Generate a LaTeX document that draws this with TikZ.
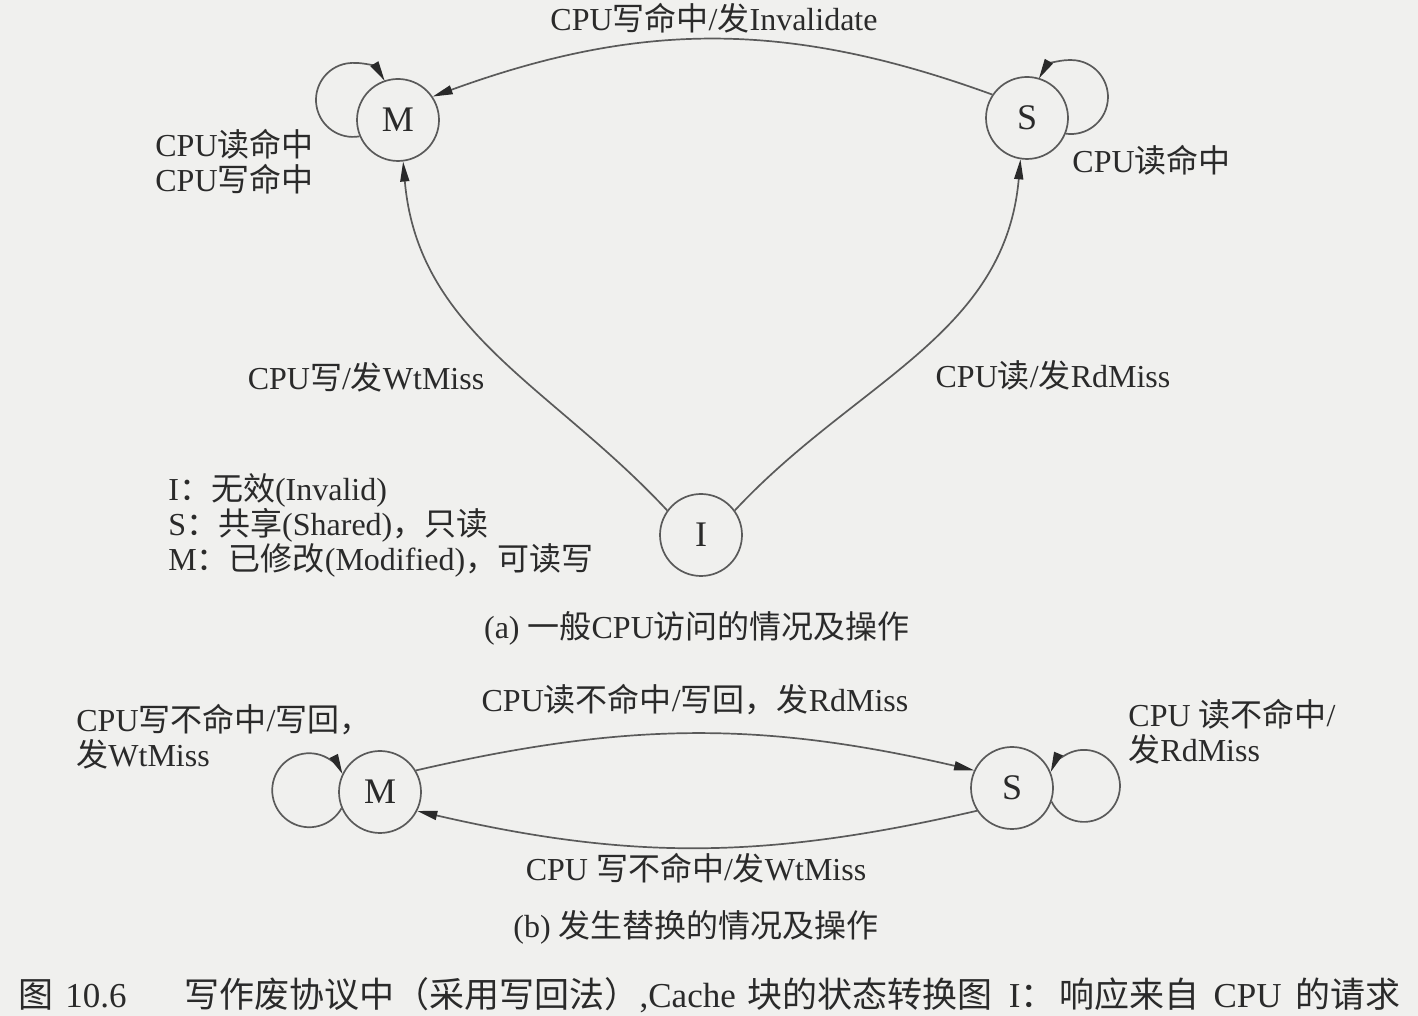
\documentclass[tikz,border=0pt]{standalone}
\usepackage{fontspec}
\setmainfont{Liberation Serif}
\newfontfamily\cjk{Noto Sans CJK SC}
\newcommand\zh[1]{{\cjk #1}}
\usetikzlibrary{arrows.meta}
\definecolor{bgc}{RGB}{240,240,238}
\definecolor{linec}{RGB}{90,90,90}
\definecolor{txtc}{RGB}{42,42,42}
\tikzset{
  st/.style={circle, draw=linec, line width=0.85pt, minimum size=41pt, inner sep=0pt,
    font=\fontsize{18}{18}\selectfont, text=txtc},
  tr/.style={draw=linec, line width=0.85pt, -{Triangle[length=10pt,width=4.5pt,color=txtc]}},
  lbl/.style={font=\fontsize{16}{17.5}\selectfont, text=txtc, inner sep=0pt},
  figcap/.style={font=\fontsize{17.5}{18}\selectfont, text=txtc, inner sep=0pt},
}
\begin{document}
\begin{tikzpicture}[x=0.5pt,y=0.5pt]
\fill[bgc] (0,0) rectangle (1418,1016);
\useasboundingbox (0,0) rectangle (1418,1016);
% (a)
\node[st] (M) at (398,896) {M};
\node[st] (S) at (1027,898) {S};
\node[st] (I) at (701,481) {I};
\draw[tr] (S.146) to[out=160,in=20] (M.34);
\draw[tr] (I.144) to[out=133,in=-85] (M.-83);
\draw[tr] (I.36) to[out=47,in=-95] (S.-99);
\draw[tr] (M.203.6) arc[start angle=280.1,end angle=31.1,radius=37];
\draw[tr] (S.-22.4) arc[start angle=262,end angle=510,radius=37];
\node[lbl] (la) at (714,998) {CPU\zh{写命中}/\zh{发}Invalidate};
\node[lbl, anchor=west, align=left] (lb) at (155,854) {CPU\zh{读命中}\\CPU\zh{写命中}};
\node[lbl, anchor=west] (lc) at (1072,856) {CPU\zh{读命中}};
\node[lbl] (ld) at (366,639) {CPU\zh{写}/\zh{发}WtMiss};
\node[lbl] (le) at (1053,641) {CPU\zh{读}/\zh{发}RdMiss};
\node[lbl, anchor=west, align=left] (leg) at (168,491)
  {I\zh{：无效}(Invalid)\\S\zh{：共享}(Shared)\zh{，只读}\\M\zh{：已修改}(Modified)\zh{，可读写}};
\node[lbl] (capa) at (697,388) {(a) \zh{一般}CPU\zh{访问的情况及操作}};
% (b)
\node[st] (M2) at (380,224) {M};
\node[st] (S2) at (1012,228) {S};
\draw[tr] (M2.31) to[out=13,in=167] (S2.155);
\draw[tr] (S2.213) to[out=-167,in=-13] (M2.-27);
\draw[tr] (M2.203.1) arc[start angle=330.7,end angle=26.1,radius=37];
\draw[tr] (S2.-19.5) arc[start angle=205.9,end angle=517.3,radius=36];
\node[lbl] (lf) at (695,316) {CPU\zh{读不命中}/\zh{写回，发}RdMiss};
\node[lbl, anchor=west, align=left] (lg) at (76,279) {CPU\zh{写不命中}/\zh{写回，}\\\zh{发}WtMiss};
\node[lbl, anchor=west, align=left] (lh) at (1128,284) {CPU \zh{读不命中}/\\\zh{发}RdMiss};
\node[lbl] (li) at (696,148) {CPU \zh{写不命中}/\zh{发}WtMiss};
\node[lbl] (capb) at (696,89) {(b) \zh{发生替换的情况及操作}};
\node[figcap, anchor=west] (fig) at (18,21) {\zh{图}\hspace{6pt}10.6\hspace{29pt}\zh{写作废协议中（采用写回法）},Cache\hspace{6pt}\zh{块的状态转换图}\hspace{8pt}I\zh{：}\hspace{2pt}\zh{响应来自}\hspace{7pt}CPU\hspace{7pt}\zh{的请求}};
\end{tikzpicture}
\end{document}
